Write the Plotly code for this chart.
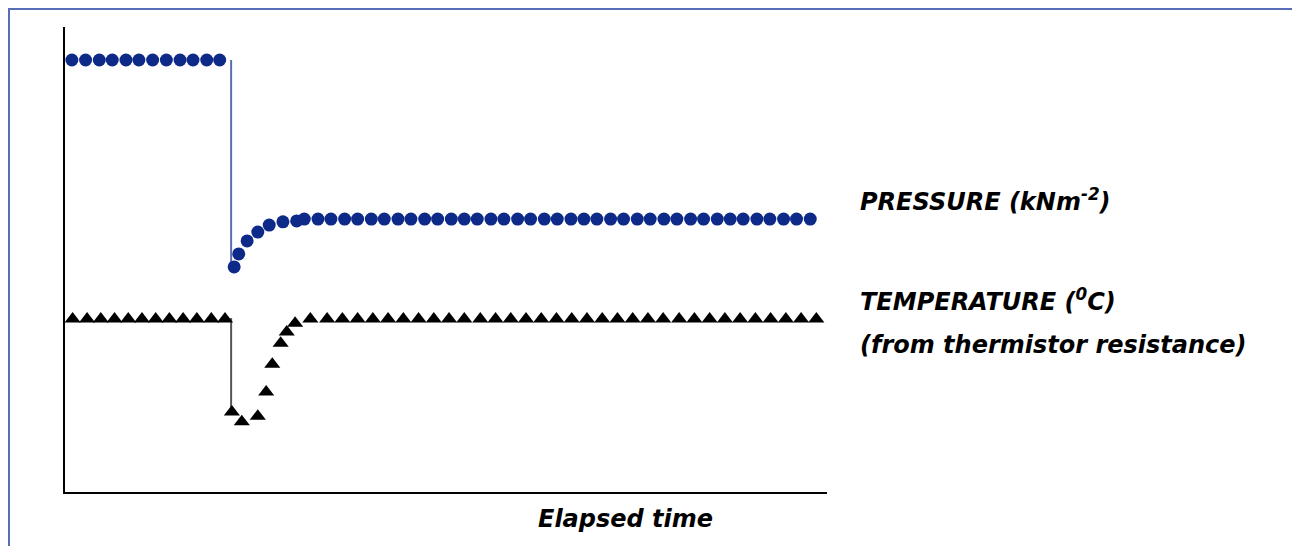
import plotly.graph_objects as go

# Elapsed time (arbitrary units) and readings (arbitrary units)
pressure_t = [0.9, 2.7, 4.5, 6.2, 8.0, 9.7, 11.5, 13.3, 15.1, 16.8, 18.6, 20.3,
              22.2, 22.8, 23.9, 25.3, 26.8, 28.6, 30.4, 31.4,
              33.2, 34.9, 36.7, 38.4, 40.2, 41.9, 43.7, 45.4, 47.2, 48.9, 50.7, 52.4,
              54.1, 55.9, 57.6, 59.4, 61.1, 62.9, 64.6, 66.4, 68.1, 69.8, 71.6, 73.3,
              75.1, 76.8, 78.6, 80.3, 82.1, 83.8, 85.6, 87.3, 89.0, 90.8, 92.5, 94.3,
              96.0, 97.8]
pressure_v = [92.9, 92.9, 92.9, 92.9, 92.9, 92.9, 92.9, 92.9, 92.9, 92.9, 92.9, 92.9,
              48.4, 51.2, 54.0, 55.9, 57.4, 58.1, 58.3, 58.7,
              58.7, 58.7, 58.7, 58.7, 58.7, 58.7, 58.7, 58.7, 58.7, 58.7, 58.7, 58.7,
              58.7, 58.7, 58.7, 58.7, 58.7, 58.7, 58.7, 58.7, 58.7, 58.7, 58.7, 58.7,
              58.7, 58.7, 58.7, 58.7, 58.7, 58.7, 58.7, 58.7, 58.7, 58.7, 58.7, 58.7,
              58.7, 58.7]

temp_t = [1.0, 2.9, 4.7, 6.5, 8.3, 10.1, 11.9, 13.7, 15.5, 17.3, 19.2, 21.0,
          21.9, 23.2, 25.3, 26.4, 27.2, 28.3, 29.1, 30.2, 32.2,
          34.4, 36.4, 38.4, 40.4, 42.4, 44.4, 46.4, 48.4, 50.4, 52.4, 54.5, 56.5,
          58.5, 60.5, 62.5, 64.5, 66.5, 68.5, 70.5, 72.5, 74.5, 76.5, 78.5, 80.6,
          82.6, 84.6, 86.6, 88.6, 90.6, 92.6, 94.6, 96.6, 98.6, 100.6]
temp_v = [37.2, 37.2, 37.2, 37.2, 37.2, 37.2, 37.2, 37.2, 37.2, 37.2, 37.2, 37.2,
          17.2, 15.1, 16.3, 21.5, 27.5, 32.0, 34.4, 36.3, 37.2,
          37.2, 37.2, 37.2, 37.2, 37.2, 37.2, 37.2, 37.2, 37.2, 37.2, 37.2, 37.2,
          37.2, 37.2, 37.2, 37.2, 37.2, 37.2, 37.2, 37.2, 37.2, 37.2, 37.2, 37.2,
          37.2, 37.2, 37.2, 37.2, 37.2, 37.2, 37.2, 37.2, 37.2, 37.2]

# step (drop) lines
pressure_step_t = [21.8, 21.8]
pressure_step_v = [92.9, 48.8]
temp_step_t = [21.8, 21.8]
temp_step_v = [37.4, 18.1]

labels = ["PRESSURE (kNm<sup>-2</sup>)", "TEMPERATURE (<sup>0</sup>C)",
          "(from thermistor resistance)"]
x_title = "Elapsed time"

FONT = "DejaVu Sans"
NAVY = "#0e2a88"

fig = go.Figure()
fig.add_trace(go.Scatter(x=pressure_step_t, y=pressure_step_v, mode="lines",
                         line=dict(color="#5a6db0", width=2), hoverinfo="skip",
                         cliponaxis=False))
fig.add_trace(go.Scatter(x=temp_step_t, y=temp_step_v, mode="lines",
                         line=dict(color="#555555", width=2), hoverinfo="skip",
                         cliponaxis=False))
fig.add_trace(go.Scatter(x=pressure_t, y=pressure_v, mode="markers",
                         marker=dict(symbol="circle", size=13, color=NAVY,
                                     line=dict(width=0)),
                         cliponaxis=False, name="Pressure"))
fig.add_trace(go.Scatter(x=temp_t, y=temp_v, mode="markers",
                         marker=dict(symbol="triangle-up", size=14, color="black",
                                     line=dict(width=0)),
                         cliponaxis=False, name="Temperature"))

ann_font = dict(family=FONT, size=24, color="black")
fig.add_annotation(x=1.041, y=0.628, xref="paper", yref="paper",
                   text="<b><i>" + labels[0] + "</i></b>",
                   showarrow=False, xanchor="left", yanchor="middle", font=ann_font)
fig.add_annotation(x=1.041, y=0.413, xref="paper", yref="paper",
                   text="<b><i>" + labels[1] + "</i></b>",
                   showarrow=False, xanchor="left", yanchor="middle", font=ann_font)
fig.add_annotation(x=1.041, y=0.316, xref="paper", yref="paper",
                   text="<b><i>" + labels[2] + "</i></b>",
                   showarrow=False, xanchor="left", yanchor="middle", font=ann_font)
fig.add_annotation(x=0.735, y=-0.058, xref="paper", yref="paper",
                   text="<b><i>" + x_title + "</i></b>",
                   showarrow=False, xanchor="center", yanchor="middle", font=ann_font)

# outer frame
fig.add_shape(type="rect", xref="paper", yref="paper", x0=-0.0735, x1=1.6129,
              y0=-0.2, y1=1.0387, line=dict(color="#5a6db8", width=2), layer="below")

fig.update_layout(
    width=1300, height=546,
    margin=dict(l=57, r=481, t=19, b=62, autoexpand=False),
    paper_bgcolor="white", plot_bgcolor="white",
    showlegend=False,
    xaxis=dict(range=[0, 100], showgrid=False, zeroline=False, showticklabels=False,
               ticks="", showline=True, linecolor="black", linewidth=2),
    yaxis=dict(range=[0, 100], showgrid=False, zeroline=False, showticklabels=False,
               ticks="", showline=True, linecolor="black", linewidth=2),
)

fig.write_html("out.html")
